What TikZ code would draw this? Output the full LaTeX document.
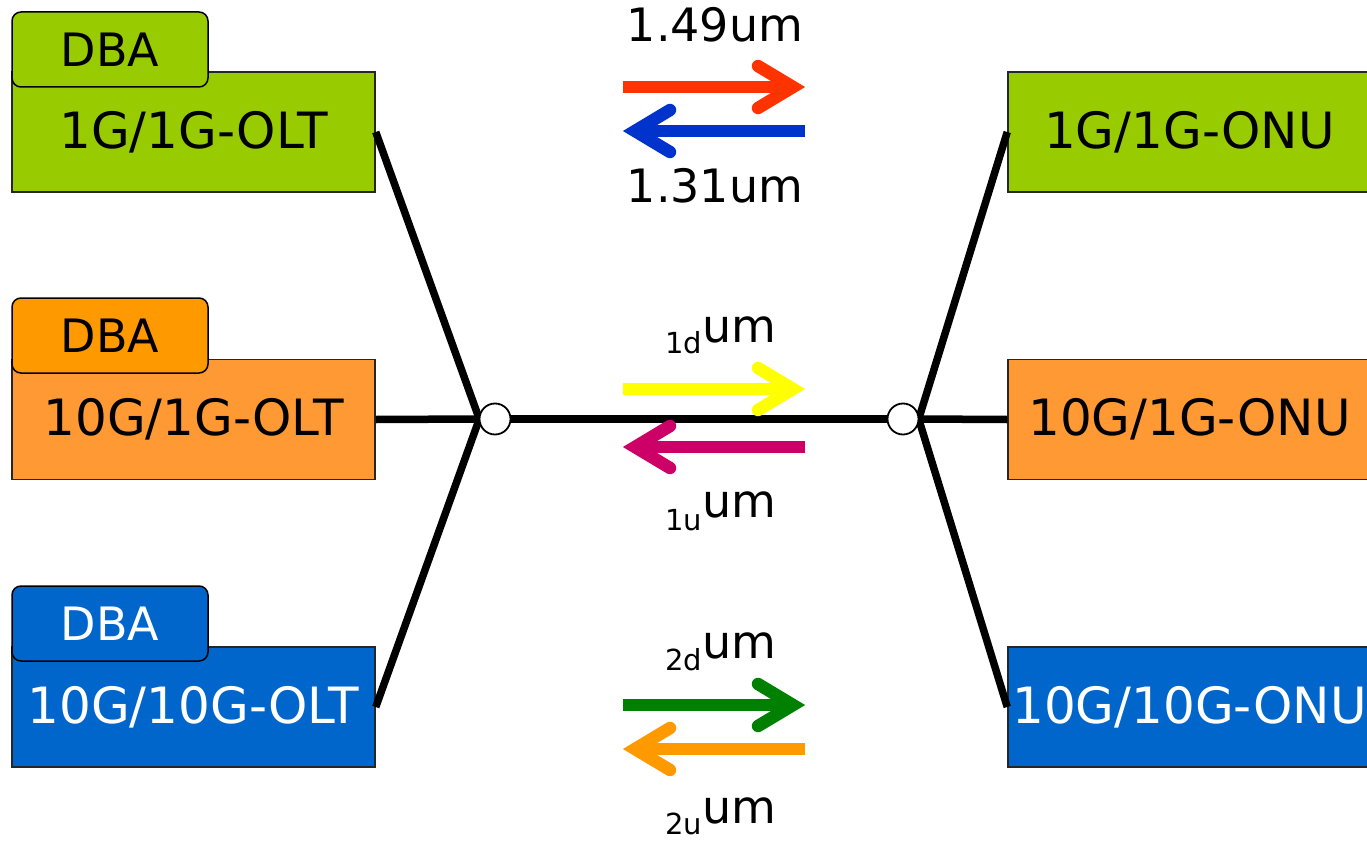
\documentclass[tikz,border=0pt]{standalone}
\usepackage{fontspec}
\setmainfont{DejaVu Sans}
\definecolor{cgreen}{HTML}{99CC00}
\definecolor{corangebox}{HTML}{FF9933}
\definecolor{corangetab}{HTML}{FF9900}
\definecolor{cblue}{HTML}{0066CC}
\definecolor{aRed}{HTML}{FF3300}
\definecolor{aBlue}{HTML}{0033CC}
\definecolor{aYellow}{HTML}{FFFF00}
\definecolor{aMagenta}{HTML}{CC0066}
\definecolor{aGreen}{HTML}{008000}
\definecolor{aOrange}{HTML}{FF9900}
\begin{document}
\begin{tikzpicture}[x=1pt,y=-1pt,
  box/.style={draw=black!85, line width=1.5pt, minimum width=363pt, minimum height=120pt, inner sep=0pt, font=\fontsize{50}{50}\selectfont},
  tabbox/.style={draw=black, line width=1.5pt, rounded corners=9pt, minimum width=196pt, minimum height=75pt, inner sep=0pt, font=\fontsize{46}{46}\selectfont},
  wire/.style={line width=7.5pt},
  hub/.style={circle, draw=black, fill=white, line width=1.8pt, minimum size=31pt, inner sep=0pt},
  lbl/.style={font=\fontsize{46}{46}\selectfont, inner sep=0pt, anchor=base},
  sublbl/.style={font=\fontsize{46}{46}\selectfont, inner sep=0pt, anchor=base west},
  pics/rarr/.style={code={
    \draw[line width=12.5pt, line cap=butt] (-91,0) -- (79,0);
    \draw[line width=12.5pt, line cap=round, line join=miter] (44,-21) -- (79,0) -- (44,21);
  }},
  pics/larr/.style={code={
    \draw[line width=12.5pt, line cap=butt] (91,0) -- (-79,0);
    \draw[line width=12.5pt, line cap=round, line join=miter] (-44,-21) -- (-79,0) -- (-44,21);
  }},
]
\useasboundingbox (0,0) rectangle (1367,840);

% OLT boxes
\node[box, fill=cgreen] (olt1) at (193.5,132) {1G/1G-OLT};
\node[tabbox, fill=cgreen] (dba1) at (110,49.5) {DBA};
\node[box, fill=corangebox] (olt2) at (193.5,419.5) {10G/1G-OLT};
\node[tabbox, fill=corangetab] (dba2) at (110,335.5) {DBA};
\node[box, fill=cblue, text=white] (olt3) at (193.5,707) {10G/10G-OLT};
\node[tabbox, fill=cblue, text=white] (dba3) at (110,623.5) {DBA};

% ONU boxes
\node[box, fill=cgreen] (onu1) at (1189.5,132) {1G/1G-ONU};
\node[box, fill=corangebox] (onu2) at (1189.5,419.5) {10G/1G-ONU};
\node[box, fill=cblue, text=white] (onu3) at (1189.5,707) {10G/10G-ONU};

% splitters
\coordinate (hl) at (495,419);
\coordinate (hr) at (903,419);
\node[minimum size=31pt, inner sep=0pt, circle] (hubL) at (hl) {};
\node[minimum size=31pt, inner sep=0pt, circle] (hubR) at (hr) {};

\draw[wire] (olt1.east) -- (hubL.west);
\draw[wire] (olt2.east) -- (hubL.west);
\draw[wire] (olt3.east) -- (hubL.west);
\draw[wire] (hubL.east) -- (hubR.west);
\draw[wire] (onu1.west) -- (hubR.east);
\draw[wire] (onu2.west) -- (hubR.east);
\draw[wire] (onu3.west) -- (hubR.east);
\node[hub] at (hl) {};
\node[hub] at (hr) {};

% arrows
\pic[color=aRed] at (714,87) {rarr};
\pic[color=aBlue] at (714,131) {larr};
\pic[color=aYellow] at (714,389) {rarr};
\pic[color=aMagenta] at (714,447) {larr};
\pic[color=aGreen] at (714,705) {rarr};
\pic[color=aOrange] at (714,749) {larr};

% labels
\node[lbl] (w149) at (715,42) {1.49um};
\node[lbl] (w131) at (715,202) {1.31um};
\node[sublbl] (w1d) at (665,342) {\raisebox{-11pt}{\fontsize{29}{29}\selectfont 1d}um};
\node[sublbl] (w1u) at (665,517) {\raisebox{-13pt}{\fontsize{29}{29}\selectfont 1u}um};
\node[sublbl] (w2d) at (665,658) {\raisebox{-12pt}{\fontsize{29}{29}\selectfont 2d}um};
\node[sublbl] (w2u) at (665,823) {\raisebox{-11pt}{\fontsize{29}{29}\selectfont 2u}um};
\end{tikzpicture}
\end{document}
